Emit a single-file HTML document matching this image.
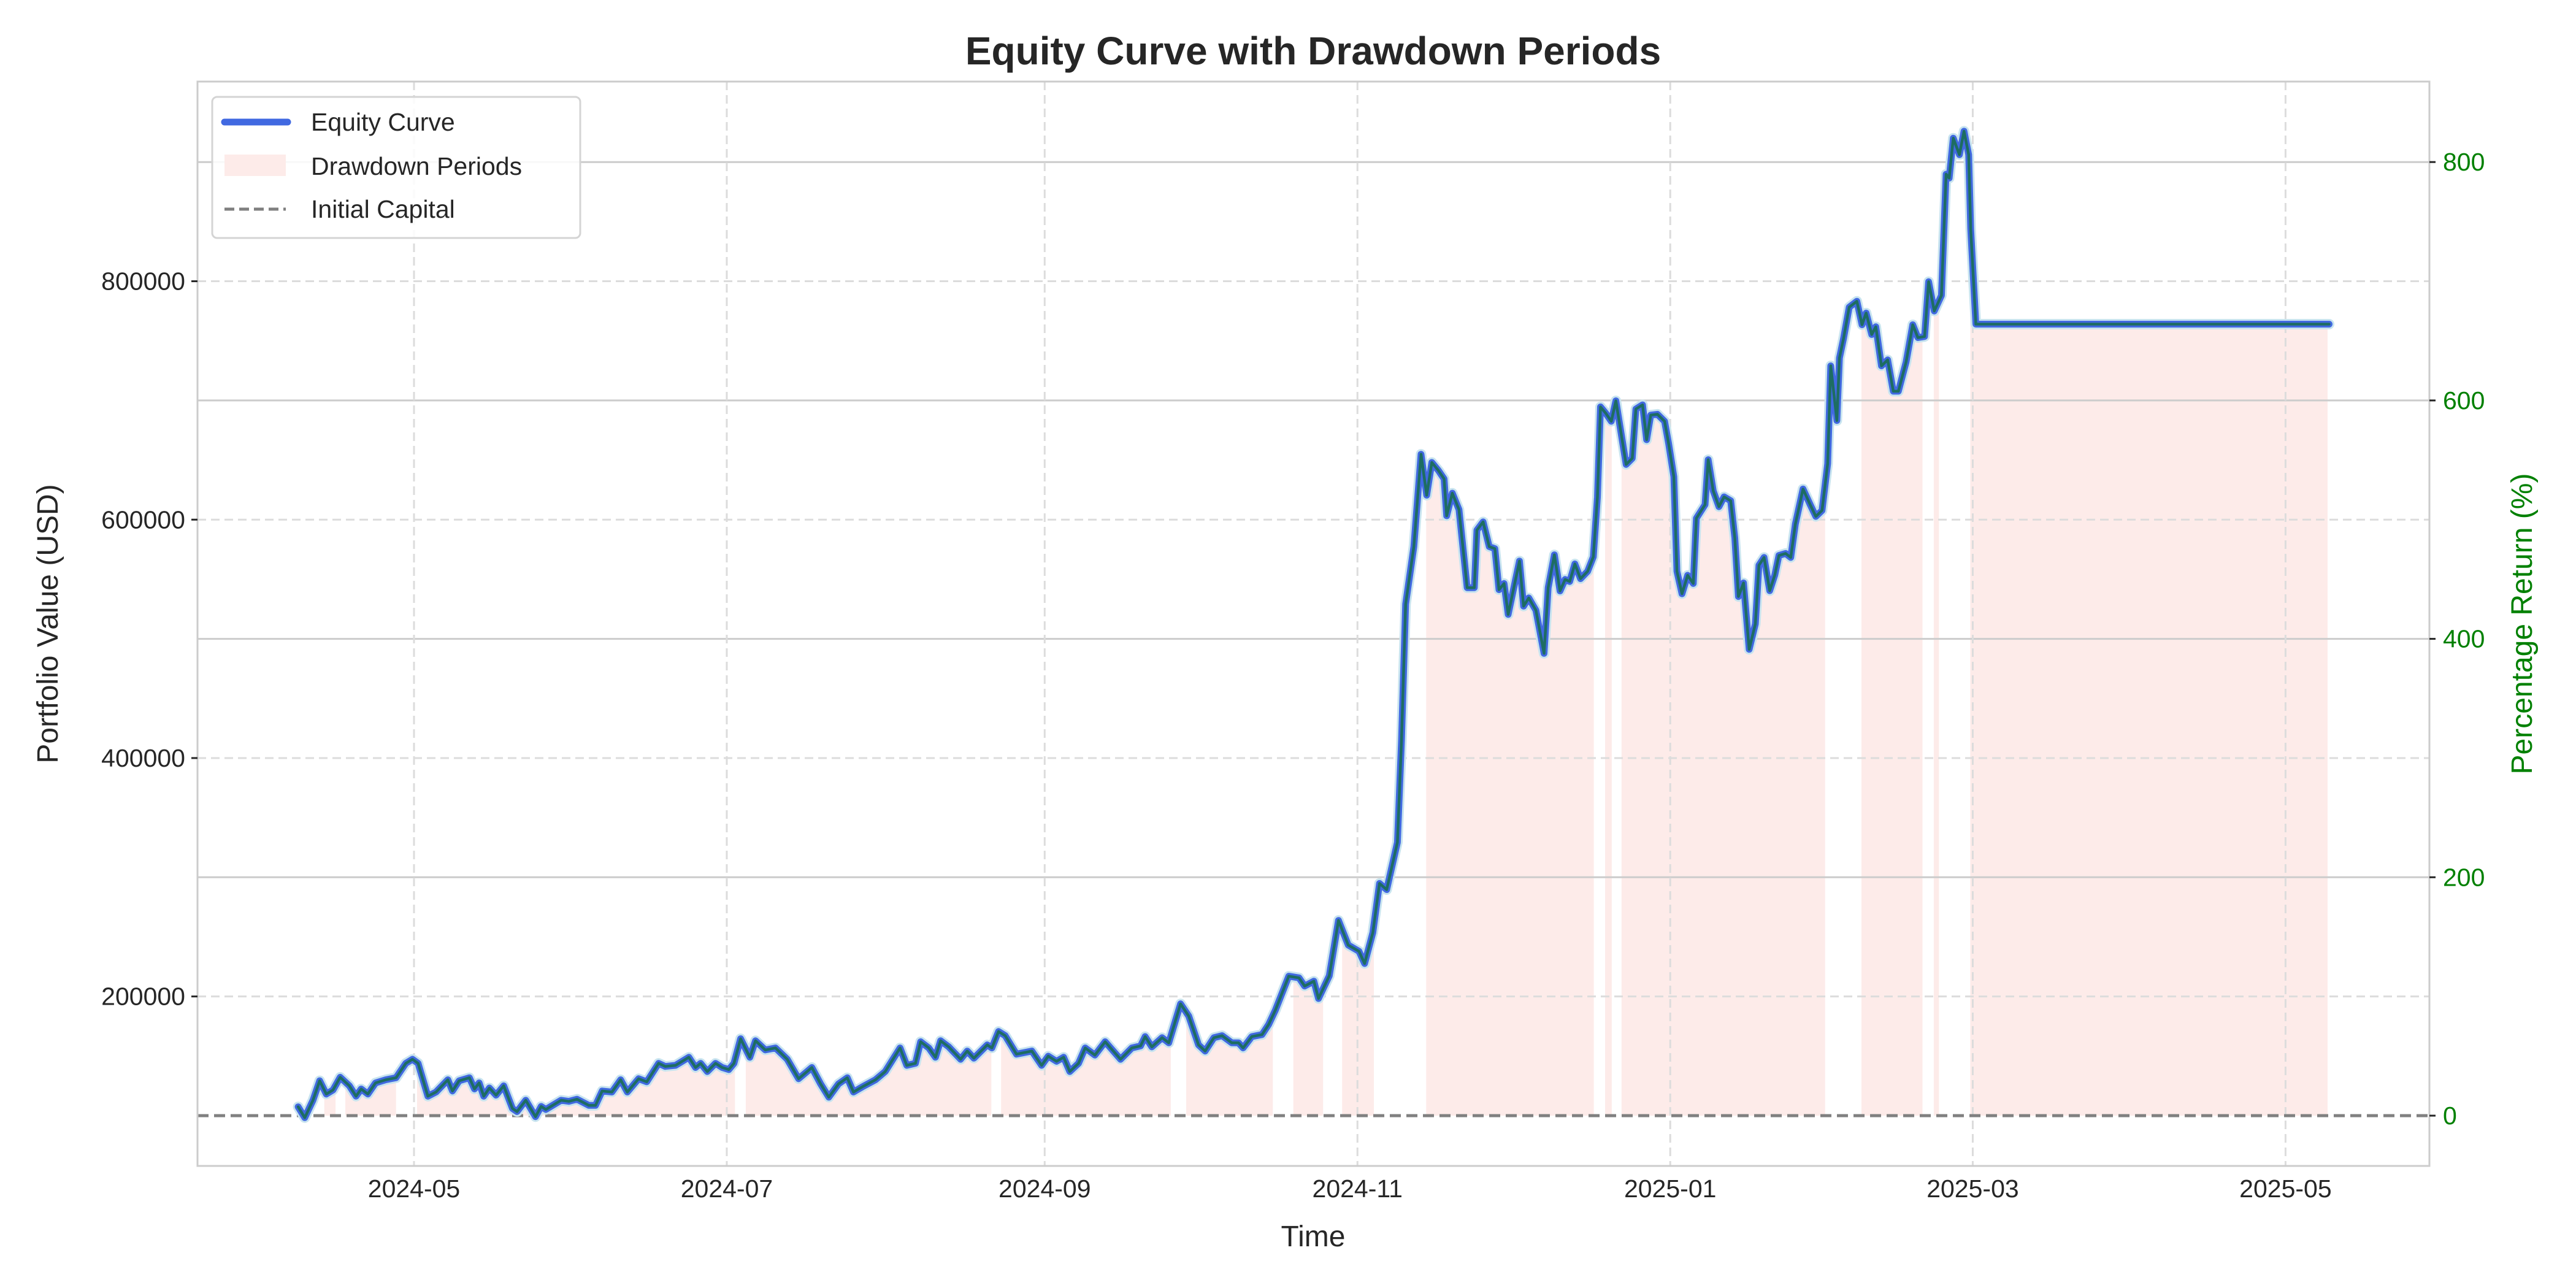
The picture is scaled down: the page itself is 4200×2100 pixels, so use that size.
<!DOCTYPE html>
<html><head><meta charset="utf-8"><style>
html,body{margin:0;padding:0;background:#fff}
svg{display:block;font-family:"Liberation Sans",Arial,sans-serif}
</style></head><body>
<svg id="chart" width="4200" height="2100" viewBox="0 0 4200 2100" xmlns="http://www.w3.org/2000/svg">
<rect width="4200" height="2100" fill="#fff"/>
<g id="shade"></g>
<g id="grid"></g>
<g id="series"></g>
<g id="axes"></g>
<text x="2141" y="105" text-anchor="middle" font-size="64" font-weight="bold" fill="#262626">Equity Curve with Drawdown Periods</text>
<text x="2141" y="2032" text-anchor="middle" font-size="48" fill="#262626">Time</text>
<text transform="translate(94,1017) rotate(-90)" text-anchor="middle" font-size="48" fill="#262626">Portfolio Value (USD)</text>
<text transform="translate(4128,1017) rotate(-90)" text-anchor="middle" font-size="48" fill="#008000">Percentage Return (%)</text>
<g>
<rect x="346" y="158" width="600" height="230" rx="8" fill="#fff" fill-opacity="0.85" stroke="#d4d4d4" stroke-width="3"/>
<line x1="366" y1="199" x2="469" y2="199" stroke="#4169e1" stroke-width="11" stroke-linecap="round"/>
<text x="507" y="213" font-size="41" fill="#262626">Equity Curve</text>
<rect x="366" y="252" width="100" height="35" fill="#fdebe9"/>
<text x="507" y="285" font-size="41" fill="#262626">Drawdown Periods</text>
<line x1="366" y1="341" x2="466" y2="341" stroke="#808080" stroke-width="5" stroke-dasharray="16,8"/>
<text x="507" y="355" font-size="41" fill="#262626">Initial Capital</text>
</g>
</svg>
<script>
// day offsets are relative to 2024-05-01
const days = [-22.6,-21.3,-19.7,-18.4,-17.1,-15.8,-14.4,-12.6,-11.3,-10.3,-9,-7.5,-5.5,-3.5,-1.6,-0.3,0.8,2.7,4.3,6.6,7.5,8.8,10.8,11.8,12.7,13.6,14.7,16,17.5,19.2,20.1,21.8,23.7,24.8,25.7,28.7,30.2,31.8,34.1,35.4,36.7,38.6,40.3,41.6,43.8,45.4,47.7,49,51,53.6,54.9,55.9,57.2,58.8,60.1,61.4,62.4,63.7,65.5,66.6,68.5,70.5,72.8,75,77.6,79.3,80.9,82.8,84.5,85.7,87.4,90,91.9,94.8,96.1,97.8,98.8,100.4,101.7,102.7,104.3,106.6,107.9,109.2,111.8,112.7,114,115.3,117.5,120.5,122.4,123.7,125.3,126.7,127.9,129.6,130.9,132.8,134.8,137.8,140,141.7,142.6,143.9,145.9,147.2,149.5,151.1,153,154.3,156,157.6,159.5,160.8,161.7,163.4,165.4,166.7,168,170.6,172.6,173.7,175.5,176.4,178.5,180.3,182.2,184.3,185.4,187,188.3,189.7,191.8,192.6,193.4,195,196.4,197.5,198.5,199.8,200.9,201.4,202.5,203.8,205.4,206.8,207.3,208.5,209.7,210.8,211.6,212.6,213.4,215.6,216.4,217.4,218.8,220.4,221.2,222.4,223.5,224.5,225.4,226.4,227.5,228.9,230,230.8,231.4,232.4,233.5,234.4,236.4,237.6,238.3,239.6,240.4,241.2,242.5,243.9,244.7,245.7,246.3,247.3,248.4,249.5,250.1,251.8,252.4,253.4,254.5,255.5,256.8,257.6,258.3,259.3,260.4,261.6,262.3,263.3,264.4,265.4,266.2,267.5,268.5,269.4,270.9,272.3,273.4,274.6,275.7,276.3,277.5,278,278.8,279.9,281.4,282.4,283.2,284.3,285.1,286.2,287.4,288.5,289.5,291,292.3,293.3,294.6,295.4,296.5,297.9,298.8,299.4,300.2,301.4,302.3,303.2,303.6,304.6,373.5];
const values = [107400,98300,112900,129300,118100,121500,132200,125000,116300,122400,118100,127500,130100,131800,143900,147300,143900,116300,119800,130100,120700,129300,131800,122400,127500,116300,123200,117200,125000,106000,103400,112900,99100,107700,105200,112900,112000,113800,108600,108600,120700,119800,130100,119800,131000,128400,143900,141300,142200,149000,140400,143900,137000,143900,140400,138700,143900,164500,149000,162800,155100,156800,147300,131000,140400,126700,115500,126700,131800,119800,124100,130100,137000,156800,142200,143900,162000,156800,149000,162800,157700,147300,154200,148200,159400,156800,170600,167100,151600,154200,142200,149900,145600,149000,137000,143900,156800,150800,162000,147300,156800,158500,166300,157700,165400,161100,193800,183500,159400,154200,165400,167100,161100,161100,156800,166300,168000,176600,188600,217000,215600,208700,212800,198300,217300,263800,243100,237900,227600,253500,294800,289600,329300,415400,529100,577400,654900,620500,648000,641200,634200,603200,622200,608400,542900,542900,591200,598100,577400,575700,541200,546400,520500,565300,527400,534300,524000,487800,542900,570500,540200,549800,548100,562900,550500,556700,568800,618800,694600,689400,682500,699700,646300,651500,692800,696300,667000,687700,688400,682500,663500,636000,556700,537800,553300,546400,601100,612600,650300,624000,610900,619100,615800,584700,535500,546900,491200,512500,561700,568300,540400,553500,569900,571600,568300,596200,625700,612600,602700,607700,647000,729000,683100,735600,752000,778200,783200,763500,773300,755300,761800,729000,734000,707700,707700,732300,763500,752700,753600,799600,775000,788100,889800,886500,920000,906200,925900,906200,843900,764000,764000];
const ddStart = [-17.5,-13.4,0.6,64.7,114.5,150.6,171.5,181,197.4,232.3,235.5,282.3,296.4,303.5];
const ddEnd   = [-15.3,-3.5,62.6,112.6,147.6,167.5,177.3,187.2,230.1,233.6,275.2,294.2,297.4,373.2];
const xTickDays = [0,61,123,184,245,304,365];
const xTickLabels = ["2024-05","2024-07","2024-09","2024-11","2025-01","2025-03","2025-05"];
const yTicks = [200000,400000,600000,800000];
const yTickLabels = ["200000","400000","600000","800000"];
const rTicks = [0,200,400,600,800];
const rTickLabels = ["0","200","400","600","800"];
const initialCapital = 100000;

const L=322,R=3961,T=133,B=1901;
const xS = d => 675 + d*8.36;
const yS = v => 1819 - (v-100000)/200000*388.7;
const rS = p => yS(initialCapital + p*initialCapital/100);
const NS="http://www.w3.org/2000/svg";
function mk(tag, attrs, parent){const e=document.createElementNS(NS,tag);for(const k in attrs)e.setAttribute(k,attrs[k]);parent.appendChild(e);return e;}
const shade=document.getElementById('shade'),grid=document.getElementById('grid'),series=document.getElementById('series'),axes=document.getElementById('axes');
function interp(d){
  if(d<=days[0]) return values[0];
  for(let i=1;i<days.length;i++){ if(d<=days[i]){const t=(d-days[i-1])/(days[i]-days[i-1]);return values[i-1]+t*(values[i]-values[i-1]);} }
  return values[values.length-1];
}

for(let i=0;i<rTicks.length;i++){
  if(rTicks[i]===0) continue;
  const g=mk('line',{x1:L,x2:R,y1:rS(rTicks[i]),y2:rS(rTicks[i]),stroke:'#cccccc','stroke-width':3},grid);
  
  
}
for(let i=0;i<xTickDays.length;i++){
  const g=mk('line',{x1:xS(xTickDays[i]),x2:xS(xTickDays[i]),y1:T,y2:B,stroke:'#dcdcdc','stroke-width':3,'stroke-dasharray':'14,8'},grid);
  
  
}
for(let i=0;i<yTicks.length;i++){
  const g=mk('line',{x1:L,x2:R,y1:yS(yTicks[i]),y2:yS(yTicks[i]),stroke:'#dcdcdc','stroke-width':3,'stroke-dasharray':'14,8'},grid);
  
  
}
for(let i=0;i<ddStart.length;i++){
  const s=ddStart[i], e=ddEnd[i];
  const pts=[[xS(s),yS(interp(s))]];
  for(let j=0;j<days.length;j++){ if(days[j]>s && days[j]<e) pts.push([xS(days[j]),yS(values[j])]); }
  pts.push([xS(e),yS(interp(e))]);
  pts.push([xS(e),yS(initialCapital)]);
  pts.push([xS(s),yS(initialCapital)]);
  const p=mk('polygon',{points:pts.map(q=>q[0].toFixed(1)+','+q[1].toFixed(1)).join(' '),fill:'#fdebe9'},shade);
  
  
}
const ic=mk('line',{x1:L,x2:R,y1:yS(initialCapital),y2:yS(initialCapital),stroke:'#808080','stroke-width':5,'stroke-dasharray':'18,9'},series);


const pts=days.map((d,i)=>xS(d).toFixed(1)+','+yS(values[i]).toFixed(1)).join(' ');
const halo=mk('polyline',{points:pts,fill:'none',stroke:'#c8e4ef','stroke-width':17,'stroke-linejoin':'round','stroke-linecap':'round'},series);


const eq=mk('polyline',{points:pts,fill:'none',stroke:'#4169e1','stroke-width':11,'stroke-linejoin':'round','stroke-linecap':'round'},series);


const inner=mk('polyline',{points:pts,fill:'none',stroke:'#1d6d62','stroke-width':4.5,'stroke-linejoin':'round','stroke-linecap':'round'},series);



const fr=mk('rect',{x:L,y:T,width:R-L,height:B-T,fill:'none',stroke:'#cccccc','stroke-width':3},axes);


for(let i=0;i<xTickDays.length;i++){
  const t=mk('text',{x:xS(xTickDays[i]),y:1952,'text-anchor':'middle','font-size':41,fill:'#262626'},axes);
  t.textContent=xTickLabels[i];
  
  
}
for(let i=0;i<yTicks.length;i++){
  const tk=mk('line',{x1:L-10,x2:L,y1:yS(yTicks[i]),y2:yS(yTicks[i]),stroke:'#262626','stroke-width':3},axes);
  
  
  const t=mk('text',{x:L-20,y:yS(yTicks[i])+14,'text-anchor':'end','font-size':41,fill:'#262626'},axes);
  t.textContent=yTickLabels[i];
  
  
}
for(let i=0;i<rTicks.length;i++){
  const tk=mk('line',{x1:R,x2:R+10,y1:rS(rTicks[i]),y2:rS(rTicks[i]),stroke:'#262626','stroke-width':3},axes);
  
  
  const t=mk('text',{x:R+22,y:rS(rTicks[i])+14,'text-anchor':'start','font-size':41,fill:'#008000'},axes);
  t.textContent=rTickLabels[i];
  
  
}
</script>
</body></html>
